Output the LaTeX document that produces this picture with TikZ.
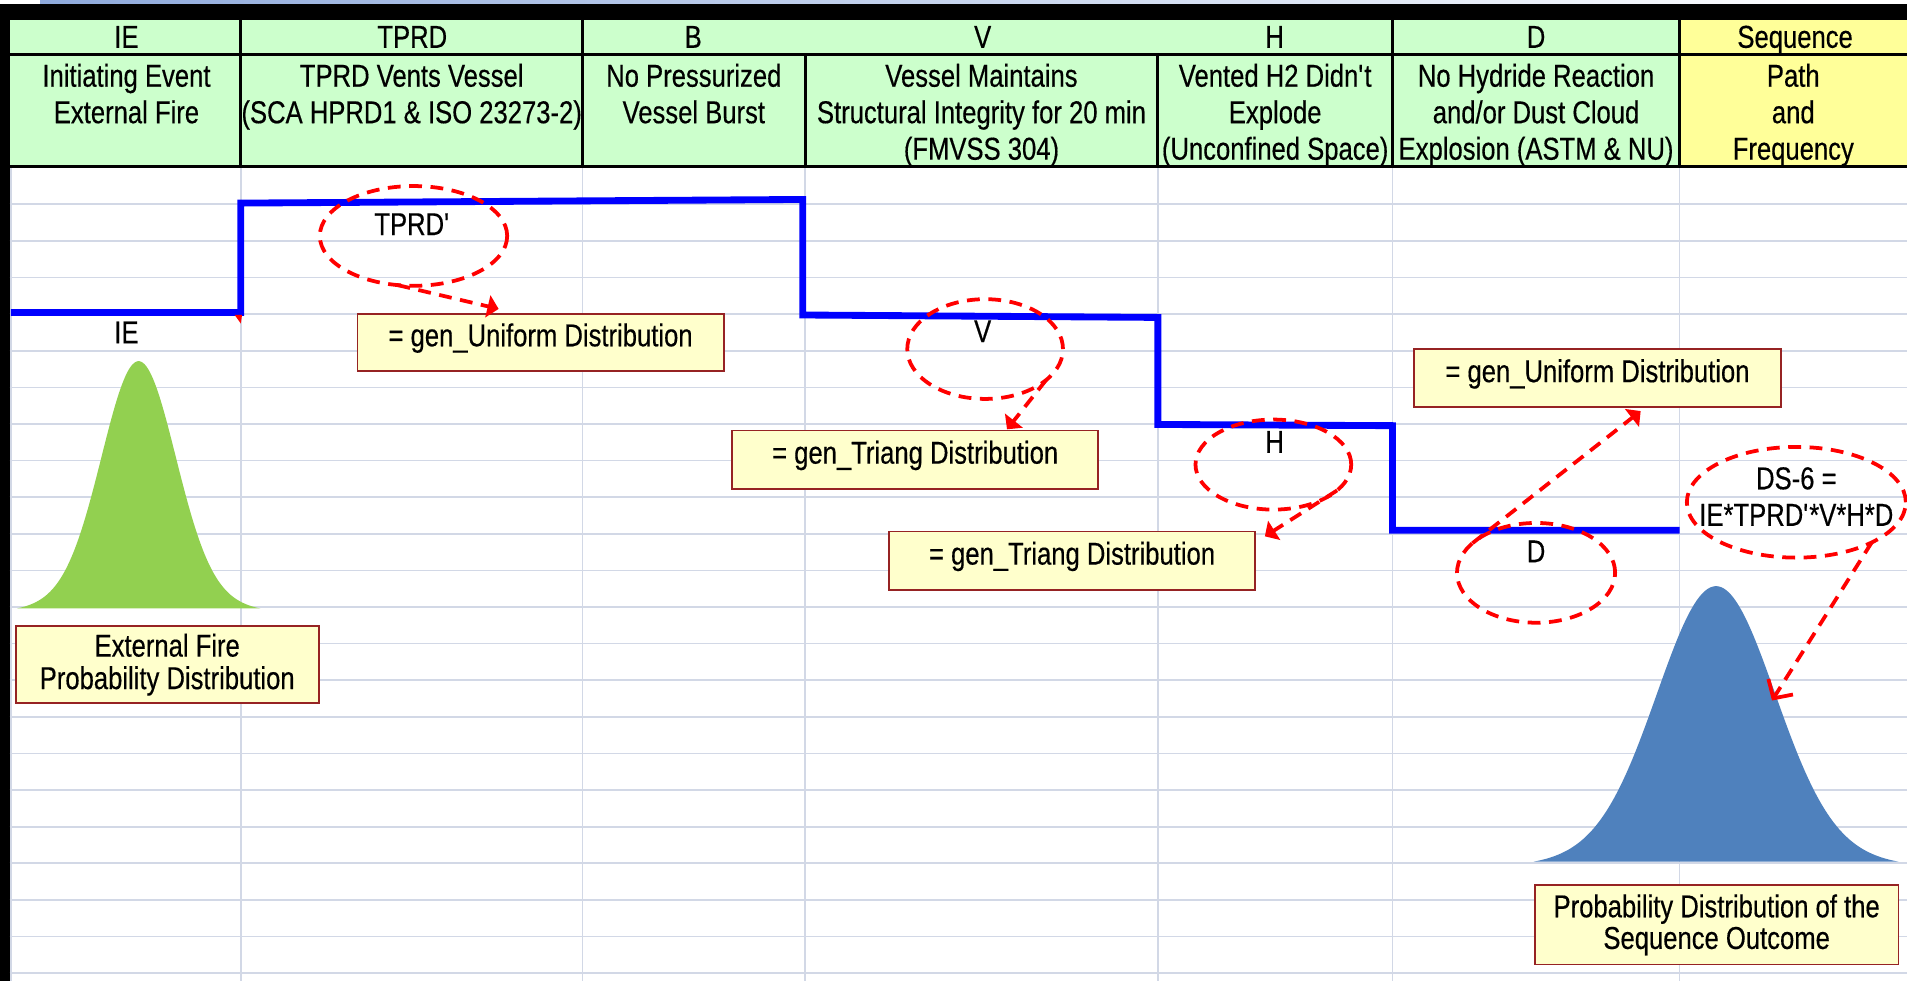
\documentclass[tikz,border=0pt]{standalone}
\usepackage{fontspec}
\setmainfont{Liberation Sans}[FakeStretch=0.81, FakeBold=0.4]
\usetikzlibrary{shapes.geometric,arrows.meta}

\definecolor{hdrgreen}{RGB}{204,255,204}
\definecolor{hdryellow}{RGB}{255,255,153}
\definecolor{gridc}{RGB}{210,216,230}
\definecolor{notefill}{RGB}{255,255,204}
\definecolor{noteedge}{RGB}{150,35,35}
\definecolor{firegreen}{RGB}{146,208,80}
\definecolor{outblue}{RGB}{79,129,189}
\definecolor{stripblue}{RGB}{143,170,220}
\definecolor{pathblue}{RGB}{0,0,255}

\begin{document}
\begin{tikzpicture}[x=0.025cm, y=-0.025cm,
  txt/.style={font=\fontsize{18.5}{21}\selectfont, inner sep=0pt, anchor=base},
  gridln/.style={draw=gridc, line width=1pt},
  hdrln/.style={draw=black, line width=1.7pt},
  note/.style={draw=noteedge, fill=notefill, line width=1.1pt, inner sep=0pt,
    font=\fontsize{18.5}{19}\selectfont, align=center},
  onenote/.style={note, text height=13.2pt, text depth=8.6pt},
  ring/.style={ellipse, draw=red, line width=2.2pt, dash pattern=on 7.5pt off 5pt,
    inner sep=0pt, outer sep=0pt},
  callout/.style={red, line width=2.2pt, dash pattern=on 7.5pt off 5pt,
    -{Triangle[length=6.5pt,width=13pt]}},
  pointer/.style={red, line width=2.2pt, dash pattern=on 7.5pt off 5pt,
    -{Straight Barb[length=8pt,width=17pt]}}]

% page frame
\useasboundingbox (0,0) rectangle (1568,807);
\fill[white] (0,0) rectangle (1568,807);
\shade[left color=stripblue, right color=white] (33,0) rectangle (1530,3.3);
\fill[black] (0,3.3) rectangle (1568,15);
\fill[black] (0,3.3) rectangle (8,807);

% worksheet grid
\foreach \k in {0,...,21}
  \draw[gridln] (8,{168+30.1*\k}) -- (1568,{168+30.1*\k});
\foreach \gx in {9,198,479,662,952,1145,1381}
  \draw[gridln] (\gx,137) -- (\gx,807);

% header cells
\fill[hdrgreen] (8,15) rectangle (1381,137);
\fill[hdryellow] (1381,15) rectangle (1568,137);
\draw[hdrln] (8,15) -- (1568,15);
\draw[hdrln] (8,45) -- (1568,45);
\draw[hdrln] (8,137) -- (1568,137);
\foreach \gx in {198,479,1145,1381}
  \draw[hdrln] (\gx,15) -- (\gx,45);
\foreach \gx in {198,479,662,952,1145,1381}
  \draw[hdrln] (\gx,45) -- (\gx,137);

% header row 1
\node[txt] (cIE) at (104,39.3) {IE};
\node[txt] (cTPRD) at (339,39.3) {TPRD};
\node[txt] (cB) at (570,39.3) {B};
\node[txt] (cV) at (808,39.3) {V};
\node[txt] (cH) at (1048,39.3) {H};
\node[txt] (cD) at (1263,39.3) {D};
\node[txt] (cSeq) at (1476,39.3) {Sequence};

% header row 2
\node[txt] (dIEa) at (104,71.3) {Initiating Event};
\node[txt] (dIEb) at (104,101.3) {External Fire};
\node[txt] (dTa) at (338.5,71.3) {TPRD Vents Vessel};
\node[txt] (dTb) at (338.5,101.3) {(SCA HPRD1 \& ISO 23273-2)};
\node[txt] (dBa) at (570.5,71.3) {No Pressurized};
\node[txt] (dBb) at (570.5,101.3) {Vessel Burst};
\node[txt] (dVa) at (807,71.3) {Vessel Maintains};
\node[txt] (dVb) at (807,101.3) {Structural Integrity for 20 min};
\node[txt] (dVc) at (807,131.3) {(FMVSS 304)};
\node[txt] (dHa) at (1048.5,71.3) {Vented H2 Didn\textquotesingle t};
\node[txt] (dHb) at (1048.5,101.3) {Explode};
\node[txt] (dHc) at (1048.5,131.3) {(Unconfined Space)};
\node[txt] (dDa) at (1263,71.3) {No Hydride Reaction};
\node[txt] (dDb) at (1263,101.3) {and/or Dust Cloud};
\node[txt] (dDc) at (1263,131.3) {Explosion (ASTM \& NU)};
\node[txt] (dSa) at (1474.5,71.3) {Path};
\node[txt] (dSb) at (1474.5,101.3) {and};
\node[txt] (dSc) at (1474.5,131.3) {Frequency};

% event sequence path
\draw[pathblue, line width=4pt] (9,257) -- (198,257) -- (198,167) -- (660,164)
  -- (660,259) -- (952,261) -- (952,349) -- (1145,350) -- (1145,436) -- (1381,436);
\fill[red] (193,259) -- (199,259) -- (198,266) -- cycle;

% distributions
\fill[firegreen] plot[domain=-100:100, samples=140]
  ({114+\x}, {505-208*(0.9*exp(-0.5*(\x/30)*(\x/30))+0.1*exp(-0.5*(\x/55)*(\x/55)))}) -- cycle;
\fill[outblue] plot[domain=-150:150, samples=160]
  ({1411+\x}, {714-232*(0.92*exp(-0.5*(\x/48)*(\x/48))+0.08*exp(-0.5*(\x/85)*(\x/85)))}) -- cycle;

% branch labels
\node[txt] (lIE) at (104,282.3) {IE};
\node[txt] (lT) at (339,193.3) {TPRD\textquotesingle};
\node[txt] (lV) at (808,281.3) {V};
\node[txt] (lH) at (1048,372.3) {H};
\node[txt] (lD) at (1263,462.3) {D};
\node[txt] (lS1) at (1477,402.3) {DS-6 =};
\node[txt] (lS2) at (1477,432.3) {IE*TPRD\textquotesingle*V*H*D};

% dashed rings
\node[ring, minimum width=3.85cm, minimum height=2.05cm] (eT) at (340,194) {};
\node[ring, minimum width=3.2cm, minimum height=2.05cm] (eV) at (810,287) {};
\node[ring, minimum width=3.2cm, minimum height=1.85cm] (eH) at (1047,382) {};
\node[ring, minimum width=3.25cm, minimum height=2.05cm] (eD) at (1263,471) {};
\node[ring, minimum width=4.5cm, minimum height=2.275cm] (eS) at (1477,413) {};

% notes
\node[onenote, minimum width=7.525cm, minimum height=1.175cm] (b1) at (444.5,281.5) {= gen\_Uniform Distribution};
\node[onenote, minimum width=7.525cm, minimum height=1.2cm] (b2) at (752.5,378) {= gen\_Triang Distribution};
\node[onenote, minimum width=7.525cm, minimum height=1.2cm] (b3) at (881.5,461) {= gen\_Triang Distribution};
\node[onenote, minimum width=7.525cm, minimum height=1.2cm] (b4) at (1313.5,311) {= gen\_Uniform Distribution};
\node[note, minimum width=6.225cm, minimum height=1.575cm] (b5) at (137.5,546.5) {External Fire\\Probability Distribution};
\node[note, minimum width=7.475cm, minimum height=1.625cm, font=\fontsize{18.5}{18.5}\selectfont] (b6) at (1411.5,760.5) {Probability Distribution of the\\Sequence Outcome};

% callout arrows
\coordinate (t1) at (410,254);
\coordinate (t2) at (828,353);
\coordinate (t3) at (1040,441);
\coordinate (t4) at (1349,338);
\coordinate (t5) at (1457,576);
\draw[callout] (eT.252) -- (t1);
\draw[callout] (eV.-27) -- (t2);
\draw[callout] (eH.-22) -- (t3);
\draw[callout] (eD.155) -- (t4);
\draw[pointer] (eS.-28) -- (t5);

\end{tikzpicture}
\end{document}
